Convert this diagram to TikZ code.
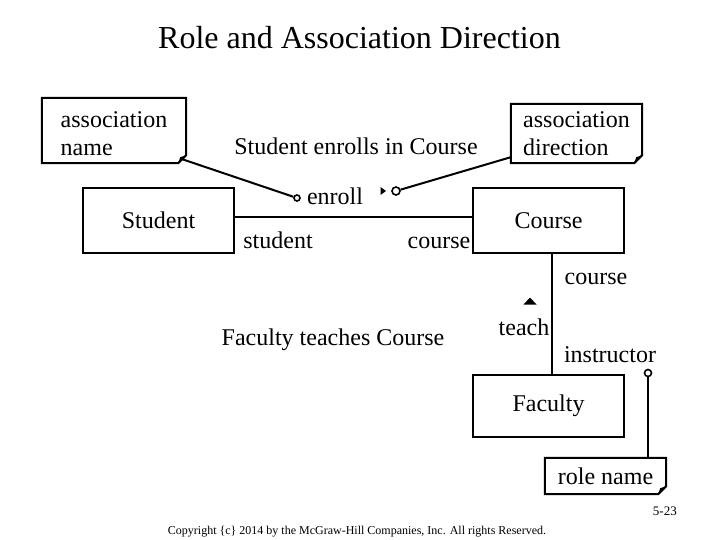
\documentclass[tikz,border=0pt]{standalone}
\usepackage{fontspec}
\setmainfont{Liberation Serif}
\usetikzlibrary{calc}
\tikzset{
  txt/.style={font=\fontsize{24}{28}\selectfont, inner sep=0pt},
  classbox/.style={draw, line width=2pt, inner sep=0pt, font=\fontsize{24}{28}\selectfont},
  notebox/.style={inner sep=0pt, align=left, font=\fontsize{24}{28}\selectfont},
  noteline/.style={line width=2pt, line join=miter},
  conn/.style={line width=2pt},
  endcirc/.style={circle, draw, line width=1.6pt, inner sep=0pt, fill=white},
}
\newcommand\mynoteoutline[1]{%
  \draw[noteline] (#1.north west) -- (#1.north east) -- ([yshift=8pt]#1.south east)
    -- ([xshift=-8pt]#1.south east) -- (#1.south west) -- cycle;
  \fill ([yshift=8pt]#1.south east) -- ([xshift=-8pt]#1.south east)
    -- ([xshift=-6pt,yshift=6pt]#1.south east) -- cycle;}
\begin{document}
\begin{tikzpicture}[x=1pt,y=-1pt]
\useasboundingbox (0,0) rectangle (720,540);
% title
\node[font=\fontsize{32}{38}\selectfont, anchor=base, inner sep=0pt] (title) at (359.5,49) {Role and Association Direction};
% notes
\node[notebox, minimum width=144pt, minimum height=65pt] (n1) at (114,130.5) {\rule{0pt}{23pt}association\\name};
\mynoteoutline{n1}
\node[notebox, minimum width=131pt, minimum height=59pt] (n2) at (576.5,133.5) {association\\direction};
\mynoteoutline{n2}
\node[notebox, minimum width=121pt, minimum height=36pt] (rn) at (605.5,476) {role name};
\mynoteoutline{rn}
% classes
\node[classbox, minimum width=151pt, minimum height=65pt] (st) at (158.5,220.5) {Student};
\node[classbox, minimum width=151pt, minimum height=65pt] (co) at (548.5,220.5) {Course};
\node[classbox, minimum width=151pt, minimum height=62pt] (fa) at (548.5,406) {Faculty};
% associations
\draw[conn] ([yshift=3pt]st.east) -- ([yshift=3pt]co.west);
\draw[conn] ([xshift=3.5pt]co.south) -- ([xshift=3.5pt]fa.north);
% circles
\node[endcirc, minimum size=6pt] (c1) at (297,198) {};
\node[endcirc, minimum size=8pt] (c2) at (396,191) {};
\node[endcirc, minimum size=7pt] (c3) at (648,373) {};
\draw[conn] ([xshift=-4pt,yshift=4pt]n1.south east) -- (c1);
\draw[conn] (c2) -- ([yshift=6pt]n2.south west);
\draw[conn] (c3) -- (c3 |- rn.north);
% direction triangles
\coordinate (t1) at (383,191);
\fill ([xshift=-2.5pt,yshift=4pt]t1) -- ([xshift=-2.5pt,yshift=-4pt]t1) -- ([xshift=3pt]t1) -- cycle;
\coordinate (t2) at (530,301);
\fill ([xshift=-6.5pt,yshift=-3.5pt]t2) -- ([xshift=6.5pt,yshift=-3.5pt]t2) -- ([yshift=3.5pt]t2) -- cycle;
% labels
\node[txt, anchor=base] (lbl1) at (356,155) {Student enrolls in Course};
\node[txt, anchor=base] (enr) at (335,205) {enroll};
\node[txt, anchor=base] (rst) at (278,248) {student};
\node[txt, anchor=base] (rco) at (439,248) {course};
\node[txt, anchor=base] (rco2) at (596,284) {course};
\node[txt, anchor=base] (tch) at (524,335) {teach};
\node[txt, anchor=base] (ins) at (610,362) {instructor};
\node[txt, anchor=base] (lbl2) at (333,345) {Faculty teaches Course};
\node[font=\fontsize{13}{15}\selectfont, anchor=base east, inner sep=0pt] (pg) at (677,515) {5-23};
\node[font=\fontsize{12}{14}\selectfont, anchor=base, inner sep=0pt] (cpy) at (357,534) {Copyright \{c\} 2014 by the McGraw-Hill Companies, Inc. All rights Reserved.};
\end{tikzpicture}
\end{document}
